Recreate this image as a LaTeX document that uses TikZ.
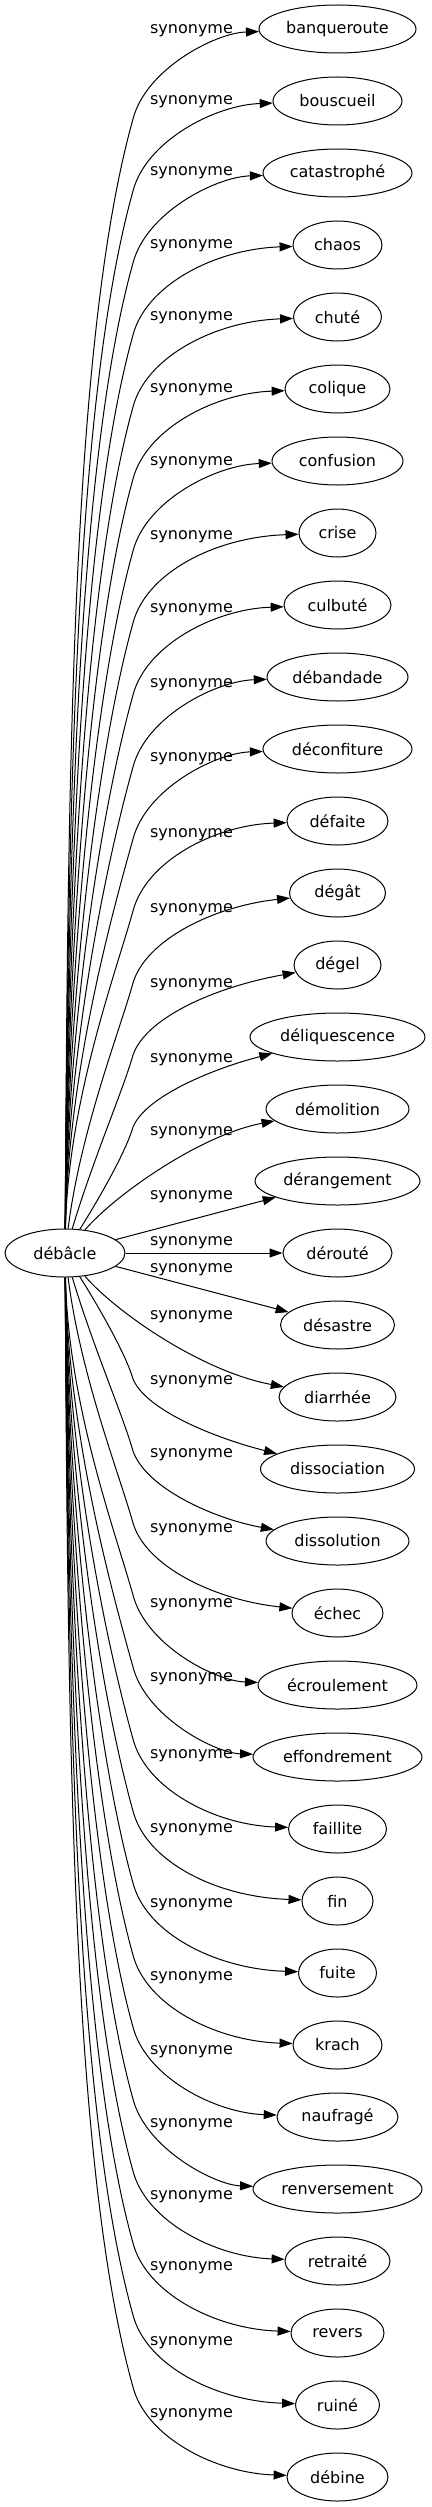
\documentclass[tikz,border=0pt]{standalone}
\usepackage{fontspec}
\setmainfont{DejaVu Sans}
\usetikzlibrary{shapes.geometric,arrows.meta}
\begin{document}
\begin{tikzpicture}[x=1pt,y=-1pt,font=\fontsize{16}{19}\selectfont]
  \tikzstyle{word}=[draw,ellipse,inner sep=0pt,minimum height=48pt,line width=1pt]
  \tikzstyle{rel}=[inner sep=0pt]
  \tikzstyle{line}=[draw,line width=1pt,-{Triangle[length=13pt,width=9pt]}]
  \useasboundingbox (0,0) rectangle (431,2507);
  \node[word,minimum width=120pt] (debacle) at (65,1253) {débâcle};
  % synonymes
  \node[word,minimum width=157pt] (banqueroute) at (337.5,29) {banqueroute};
  \node[word,minimum width=129pt] (bouscueil) at (337.5,101) {bouscueil};
  \node[word,minimum width=149pt] (catastrophe) at (337.5,173) {catastrophé};
  \node[word,minimum width=89pt] (chaos) at (337.5,245) {chaos};
  \node[word,minimum width=88pt] (chute) at (337.5,317) {chuté};
  \node[word,minimum width=105pt] (colique) at (337.5,389) {colique};
  \node[word,minimum width=131pt] (confusion) at (337.5,461) {confusion};
  \node[word,minimum width=77pt] (crise) at (337.5,533) {crise};
  \node[word,minimum width=107pt] (culbute) at (337.5,605) {culbuté};
  \node[word,minimum width=141pt] (debandade) at (337.5,677) {débandade};
  \node[word,minimum width=149pt] (deconfiture) at (337.5,749) {déconfiture};
  \node[word,minimum width=101pt] (defaite) at (337.5,821) {défaite};
  \node[word,minimum width=96pt] (degat) at (337.5,893) {dégât};
  \node[word,minimum width=87pt] (degel) at (337.5,965) {dégel};
  \node[word,minimum width=175pt] (deliquescence) at (337.5,1037) {déliquescence};
  \node[word,minimum width=143pt] (demolition) at (337.5,1109) {démolition};
  \node[word,minimum width=165pt] (derangement) at (337.5,1181) {dérangement};
  \node[word,minimum width=109pt] (deroute) at (337.5,1253) {dérouté};
  \node[word,minimum width=114pt] (desastre) at (337.5,1325) {désastre};
  \node[word,minimum width=117pt] (diarrhee) at (337.5,1397) {diarrhée};
  \node[word,minimum width=154pt] (dissociation) at (337.5,1469) {dissociation};
  \node[word,minimum width=143pt] (dissolution) at (337.5,1541) {dissolution};
  \node[word,minimum width=91pt] (echec) at (337.5,1613) {échec};
  \node[word,minimum width=159pt] (ecroulement) at (337.5,1685) {écroulement};
  \node[word,minimum width=169pt] (effondrement) at (337.5,1757) {effondrement};
  \node[word,minimum width=98pt] (faillite) at (337.5,1829) {faillite};
  \node[word,minimum width=71pt] (fin) at (337.5,1901) {fin};
  \node[word,minimum width=78pt] (fuite) at (337.5,1973) {fuite};
  \node[word,minimum width=89pt] (krach) at (337.5,2045) {krach};
  \node[word,minimum width=121pt] (naufrage) at (337.5,2117) {naufragé};
  \node[word,minimum width=169pt] (renversement) at (337.5,2189) {renversement};
  \node[word,minimum width=105pt] (retraite) at (337.5,2261) {retraité};
  \node[word,minimum width=93pt] (revers) at (337.5,2333) {revers};
  \node[word,minimum width=84pt] (ruine) at (337.5,2405) {ruiné};
  \node[word,minimum width=101pt] (debine) at (337.5,2477) {débine};
  % long edges: up/down the bundle, then a knee into the word
  \foreach \w/\y/\ly in {banqueroute/29/31, bouscueil/101/102, catastrophe/173/173,
      chaos/245/246, chute/317/318, colique/389/390, confusion/461/463, crise/533/537,
      culbute/605/610, debandade/677/685, deconfiture/749/759, defaite/821/835,
      degat/893/910, degel/965/985, deliquescence/1037/1060,
      dissociation/1469/1382, dissolution/1541/1455, echec/1613/1530,
      ecroulement/1685/1605, effondrement/1757/1679, faillite/1829/1756,
      fin/1901/1830, fuite/1973/1905, krach/2045/1978, naufrage/2117/2052,
      renversement/2189/2125, retraite/2261/2197, revers/2333/2268,
      ruine/2405/2343, debine/2477/2415}{
    \pgfmathsetmacro{\sg}{(\y>1253)*2-1}
    \pgfmathsetmacro{\hgt}{abs(\y-1253)}
    \pgfmathsetmacro{\dist}{\hgt-114}
    \pgfmathsetmacro{\near}{max(0,min(1,(432-\hgt)/288))}
    \path[line] (debacle) .. controls ({68+50*\near},{1253+\sg*(24+0.4*\dist)})
      and ({133-0.056*\dist},{\y-\sg*(90+0.2*\dist)}) .. (133,{\y-\sg*90})
      .. controls (146,{\y-\sg*(40+25*\near)}) and (215,{\y-\sg*(4+36*\near)}) .. (\w);
    \node[rel] (syn\w) at (191.5,\ly) {synonyme};
  }
  % short edges
  \foreach \w/\y/\ly in {demolition/1109/1133, diarrhee/1397/1317}{
    \pgfmathsetmacro{\sg}{(\y>1253)*2-1}
    \path[line] (debacle) .. controls (115,{\y-\sg*86}) and (200,{\y-\sg*26}) .. (\w);
    \node[rel] (syn\w) at (191.5,\ly) {synonyme};
  }
  \path[line] (debacle) -- (derangement);
  \node[rel] (synderangement) at (191.5,1197) {synonyme};
  \path[line] (debacle) -- (deroute);
  \node[rel] (synderoute) at (191.5,1243) {synonyme};
  \path[line] (debacle) -- (desastre);
  \node[rel] (syndesastre) at (191.5,1270) {synonyme};
\end{tikzpicture}
\end{document}
